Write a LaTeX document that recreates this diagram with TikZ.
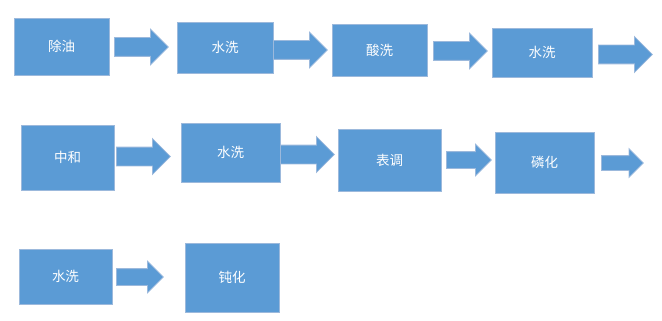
\documentclass[tikz,border=0pt]{standalone}
\usepackage{fontspec}
\usepackage{xcolor}
\usepackage{tikz}
\usetikzlibrary{shapes,arrows}
\newfontfamily\cjk{Noto Sans CJK SC}
\definecolor{stepfill}{HTML}{5B9BD5}
\definecolor{stepline}{HTML}{9CB9DC}

\begin{document}
\begin{tikzpicture}[
    x=1pt, y=-1pt,
    box/.style={rectangle, draw=stepline, line width=0.8pt, fill=stepfill, text=white, font=\cjk\fontsize{13.5}{15}\selectfont, inner sep=0pt},
    flowarrow/.style={single arrow, anchor=tail, draw=stepline, line width=0.8pt, fill=stepfill, inner xsep=0pt, inner ysep=9pt, single arrow head extend=8.5pt, minimum height=54pt}
]
    \useasboundingbox (0,0) rectangle (662,321);

    % first row
    \node (degrease) [box, minimum width=95pt, minimum height=57pt] at (61.5,46.5) {除油};
    \node (rinse1) [box, minimum width=96pt, minimum height=51pt] at (225,47.5) {水洗};
    \node (pickle) [box, minimum width=95pt, minimum height=52pt] at (379.5,50) {酸洗};
    \node (rinse2) [box, minimum width=100pt, minimum height=49pt] at (542,52.5) {水洗};

    \node (a1) [flowarrow] at (114,47) {};
    \node (a2) [flowarrow] at (273,50) {};
    \node (a3) [flowarrow] at (433,51) {};
    \node (a4) [flowarrow] at (598,54.5) {};

    % second row
    \node (neutral) [box, minimum width=93pt, minimum height=65pt] at (67.5,157.5) {中和};
    \node (rinse3) [box, minimum width=99pt, minimum height=59pt] at (230.5,152.5) {水洗};
    \node (condition) [box, minimum width=103pt, minimum height=62pt] at (389.5,160) {表调};
    \node (phosphate) [box, minimum width=99pt, minimum height=61pt] at (544.5,162.5) {磷化};

    \node (a5) [flowarrow] at (116,156.5) {};
    \node (a6) [flowarrow] at (280,154.5) {};
    \node (a7) [flowarrow, inner ysep=8pt, single arrow head extend=7.5pt, minimum height=45pt] at (446,160) {};
    \node (a8) [flowarrow, inner ysep=7pt, single arrow head extend=7pt, minimum height=42pt] at (601,163) {};

    % third row
    \node (rinse4) [box, minimum width=93pt, minimum height=55pt] at (65.5,276.5) {水洗};
    \node (passivate) [box, minimum width=94pt, minimum height=69pt] at (232,277.5) {钝化};

    \node (a9) [flowarrow, inner ysep=8pt, single arrow head extend=7.5pt, minimum height=47pt] at (116,277) {};
\end{tikzpicture}
\end{document}
